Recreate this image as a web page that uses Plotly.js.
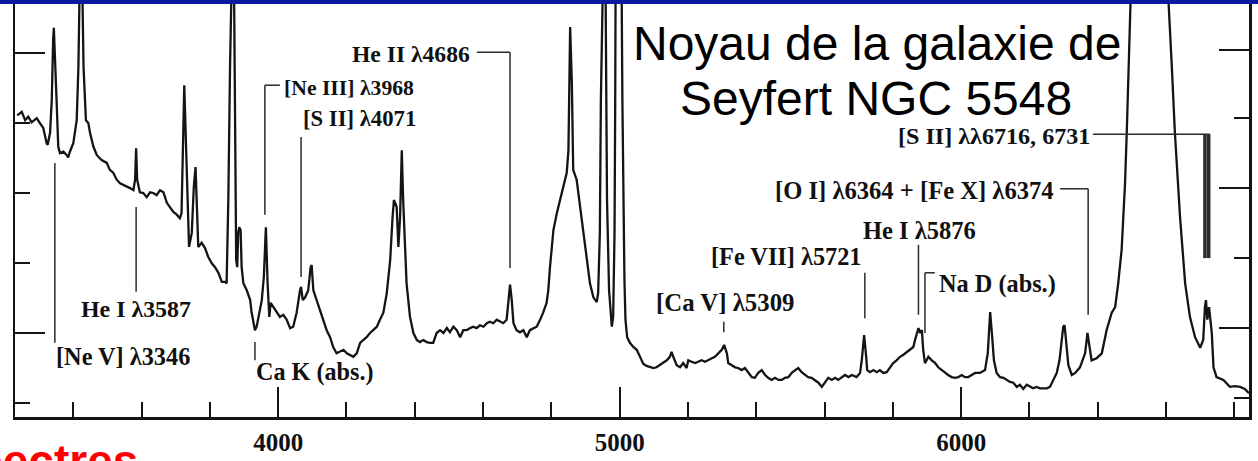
<!DOCTYPE html>
<html>
<head>
<meta charset="utf-8">
<script src="https://cdn.plot.ly/plotly-3.0.1.min.js"></script>
<style>
html,body{margin:0;padding:0;background:#fff;}
#chart{width:1258px;height:461px;}
</style>
</head>
<body>
<div id="chart"></div>
<script>
const wavelength = [
3236,3249,3259,3268,3278,3293,3302,3312,3322,3325,3332,3337,3341,3343,3351,3356,3361,3371,3381,3385,3390,3400,
3410,3415,3418,3423,3427,3430,3437,3444,3449,3459,3469,3483,3498,3507,3517,3527,3537,3551,3566,3576,3581,3584,3587,
3595,3605,3615,3625,3634,3644,3654,3664,3674,3683,3693,3703,3712,3717,3722,3725,3732,3739,3747,3753,3758,3763,3766,
3776,3786,3795,3805,3815,3825,3835,3844,3849,3854,3859,3862,3866,3871,3873,3875,3877,3880,3883,3886,3890,3893,3898,
3908,3918,3922,3927,3932,3937,3942,3952,3958,3964,3969,3974,3978,3986,3996,4005,4015,4025,4035,4044,4054,4059,4064,
4067,4072,4079,4088,4095,4098,4103,4113,4122,4132,4142,4152,4161,4171,4181,4191,4201,4210,4220,4230,4240,4249,4259,
4269,4279,4289,4298,4308,4318,4328,4335,4339,4347,4352,4357,4362,4366,4371,4376,4386,4396,4406,4415,4425,4435,4445,
4454,4464,4474,4484,4494,4503,4513,4523,4533,4542,4552,4562,4571,4581,4591,4601,4611,4620,4630,4640,4650,4659,4669,
4674,4679,4684,4689,4698,4708,4718,4728,4737,4747,4757,4767,4776,4786,4791,4796,4801,4806,4816,4825,4835,4845,4850,
4853,4855,4860,4864,4874,4884,4894,4903,4913,4923,4933,4937,4942,4945,4947,4953,4959,4961,4963,4969,4977,4981,4985,
4987,4988,4998,5006,5008,5011,5014,5017,5022,5030,5040,5050,5060,5069,5079,5089,5099,5108,5118,5128,5138,5147,5152,
5157,5167,5177,5186,5196,5201,5211,5221,5230,5240,5250,5260,5270,5279,5289,5299,5306,5314,5318,5328,5338,5347,5357,
5367,5377,5387,5396,5406,5416,5426,5435,5445,5455,5465,5475,5484,5494,5504,5514,5523,5533,5543,5552,5562,5572,5582,
5592,5601,5611,5621,5631,5640,5650,5660,5670,5680,5694,5704,5709,5714,5716,5721,5725,5733,5743,5753,5762,5772,5782,
5792,5801,5811,5821,5831,5841,5850,5860,5865,5870,5875,5880,5885,5889,5894,5899,5904,5914,5924,5933,5943,5953,5962,
5972,5982,5992,6002,6011,6021,6031,6041,6055,6070,6078,6082,6085,6090,6096,6104,6114,6124,6133,6143,6153,6163,6172,
6182,6192,6202,6211,6221,6231,6241,6251,6260,6270,6280,6288,6295,6299,6303,6309,6314,6324,6334,6348,6363,6370,6375,
6382,6397,6412,6426,6441,6451,6460,6470,6480,6485,6490,6496,6550,6607,6617,6626,6641,6656,6670,6685,6700,6709,6714,
6717,6721,6726,6734,6739,6748,6768,6787,6802,6817,6831,6843
];
// Relative flux (arbitrary units); values above the frame are the saturated line cores
const flux = [
5.11,5.16,5.04,5.09,5.01,5.07,5.00,4.93,4.71,4.69,4.86,5.33,6.19,6.36,5.33,4.66,4.57,4.59,4.54,4.51,4.59,4.71,
5.04,5.80,6.76,7.60,6.76,5.80,5.04,5.00,4.86,4.66,4.54,4.47,4.43,4.33,4.29,4.19,4.14,4.11,4.07,4.04,4.19,4.64,4.19,
4.01,4.00,3.94,4.01,4.00,3.97,4.04,4.01,3.86,3.80,3.73,3.69,3.64,3.71,4.86,5.54,4.37,3.23,3.43,4.09,4.37,3.80,3.23,
3.29,3.21,3.09,3.00,2.94,2.86,2.73,2.73,2.71,3.90,5.80,6.76,7.60,6.76,5.33,4.00,3.04,2.94,3.43,3.51,3.47,2.94,2.71,
2.61,2.47,2.30,2.19,2.04,2.09,2.23,2.47,2.80,3.51,2.71,2.23,2.43,2.37,2.29,2.23,2.26,2.19,2.07,2.09,2.29,2.47,2.61,
2.66,2.47,2.51,2.61,2.94,2.97,2.61,2.47,2.33,2.19,2.04,1.94,1.80,1.71,1.73,1.76,1.71,1.69,1.66,1.71,1.86,1.90,1.94,
2.00,2.04,2.09,2.19,2.29,2.57,3.04,3.66,3.90,3.80,3.23,3.66,4.61,3.90,3.19,2.71,2.23,2.00,1.90,1.87,1.90,1.87,1.86,
1.86,2.00,2.04,2.00,2.07,2.01,2.09,2.04,1.94,2.04,2.04,2.07,2.09,2.07,2.11,2.09,2.14,2.16,2.14,2.19,2.16,2.14,2.19,
2.47,2.69,2.47,2.14,2.04,2.01,2.04,1.94,2.04,2.07,2.09,2.19,2.29,2.43,2.61,2.94,3.19,3.47,3.71,3.90,4.09,4.29,4.61,
5.80,6.37,5.57,4.33,4.19,3.80,3.43,3.04,2.71,2.51,2.44,2.57,3.43,5.33,6.76,7.60,6.76,5.33,3.90,2.61,2.09,2.23,3.43,
5.33,6.76,7.60,6.76,5.33,3.90,2.76,2.19,1.94,1.86,1.80,1.76,1.66,1.56,1.53,1.51,1.50,1.51,1.54,1.57,1.61,1.66,1.73,
1.66,1.54,1.51,1.57,1.50,1.61,1.59,1.57,1.59,1.61,1.59,1.61,1.64,1.66,1.71,1.76,1.83,1.71,1.57,1.54,1.51,1.50,1.47,
1.50,1.43,1.37,1.36,1.43,1.47,1.40,1.36,1.33,1.36,1.33,1.33,1.36,1.37,1.43,1.47,1.50,1.44,1.40,1.37,1.36,1.33,1.29,
1.23,1.29,1.36,1.33,1.36,1.33,1.37,1.40,1.37,1.40,1.37,1.43,1.61,1.90,1.97,1.71,1.47,1.44,1.47,1.44,1.47,1.43,1.44,
1.51,1.57,1.61,1.66,1.69,1.73,1.76,1.80,1.90,2.00,2.07,2.00,2.04,1.76,1.57,1.61,1.66,1.61,1.57,1.51,1.47,1.43,1.40,
1.37,1.36,1.37,1.40,1.37,1.37,1.40,1.43,1.43,1.47,1.71,2.09,2.30,2.00,1.61,1.43,1.37,1.36,1.33,1.30,1.29,1.23,1.26,
1.20,1.26,1.23,1.21,1.23,1.21,1.21,1.21,1.23,1.33,1.43,1.61,1.90,2.09,2.11,1.83,1.54,1.40,1.43,1.51,1.71,2.00,1.83,
1.61,1.64,1.71,2.04,2.29,2.37,2.71,3.19,4.14,4.86,5.80,6.71,9.50,6.76,5.80,4.86,3.66,2.71,2.23,1.94,1.79,1.90,2.37,
2.47,2.19,2.37,2.00,1.51,1.37,1.33,1.23,1.24,1.23,1.20,1.14
];
const xTickValues = [4000, 5000, 6000];
const xTickLabels = ['4000', '5000', '6000'];
const xMinorTicks = [3400,3600,3800,4200,4400,4600,4800,5200,5400,5600,5800,6200,6400,6600,6800];
const lineNames = ['[Ne V] λ3346','He I λ3587','[Ne III] λ3968','[S II] λ4071','He II λ4686','Ca K (abs.)',
  '[Ca V] λ5309','[Fe VII] λ5721','He I λ5876','Na D (abs.)','[O I] λ6364 + [Fe X] λ6374','[S II] λλ6716, 6731'];
const titleLines = ['Noyau de la galaxie de', 'Seyfert NGC 5548'];
const slideTitle = 'Spectres';

const ink = '#141414';
// label placement: [x, y, xanchor, font size]
const labelPlace = [
  [3344, 1.67, 'left', 24.3], [3584, 2.34, 'center', 23.9], [4012, 5.50, 'left', 21.7], [4067, 5.07, 'left', 22.7],
  [4569, 5.99, 'right', 23.6], [3930, 1.44, 'left', 24.2], [5308, 2.44, 'center', 24.8], [5716, 3.10, 'right', 24.3],
  [5877, 3.47, 'center', 24.5], [5928, 2.70, 'left', 24.3], [6277, 4.04, 'right', 24.6], [6384, 4.81, 'right', 24.1]
];
const annotations = lineNames.map((t, i) => ({
  text: '<b>' + t + '</b>', x: labelPlace[i][0], y: labelPlace[i][1], xref: 'x', yref: 'y',
  xanchor: labelPlace[i][2], yanchor: 'middle', showarrow: false,
  font: {family: 'Liberation Serif, Times New Roman, serif', size: labelPlace[i][3], color: '#111'}
}));
annotations.push({text: titleLines[0], xref: 'paper', yref: 'paper', x: 0.6983, y: 0.8988,
  xanchor: 'center', yanchor: 'middle', showarrow: false,
  font: {family: 'Liberation Sans, Arial, sans-serif', size: 48, color: '#000'}});
annotations.push({text: titleLines[1], xref: 'paper', yref: 'paper', x: 0.6976, y: 0.7665,
  xanchor: 'center', yanchor: 'middle', showarrow: false,
  font: {family: 'Liberation Sans, Arial, sans-serif', size: 48, color: '#000'}});
annotations.push({text: '<b>' + slideTitle + '</b>', xref: 'paper', yref: 'paper', x: 0.1013, y: -0.106,
  xanchor: 'right', yanchor: 'middle', showarrow: false,
  font: {family: 'Liberation Sans, Arial, sans-serif', size: 46, color: '#ff0000'}});

// marker segments [x0, y0, x1, y1, width]
const seg = [
  [3346, 1.86, 3346, 4.43, 1.5], [3584, 2.59, 3584, 3.80, 1.5],
  [4005, 5.54, 3961, 5.54, 1.5], [3961, 5.54, 3961, 3.69, 1.5],
  [4067, 2.80, 4067, 4.80, 1.5],
  [4582, 6.01, 4679, 6.01, 1.5], [4679, 6.01, 4679, 2.93, 1.5],
  [3932, 1.61, 3932, 1.87, 1.5], [5305, 2.01, 5305, 2.16, 1.5],
  [5718, 2.21, 5718, 2.86, 1.5], [5875, 2.26, 5875, 3.26, 1.5],
  [5923, 2.86, 5894, 2.86, 1.5], [5894, 2.86, 5894, 2.00, 1.5],
  [6290, 4.06, 6372, 4.06, 1.5], [6372, 4.06, 6372, 2.26, 1.5],
  [6386, 4.84, 6728, 4.84, 1.5], [6714, 4.84, 6714, 3.07, 3.5], [6725, 4.84, 6725, 3.07, 3.5]
];
const shapes = seg.map(s => ({type: 'line', xref: 'x', yref: 'y', x0: s[0], y0: s[1], x1: s[2], y1: s[3],
  line: {color: '#2a2a2a', width: s[4]}}));
shapes.push({type: 'rect', xref: 'paper', yref: 'paper', x0: -0.02, x1: 1.02, y0: 0.9952, y1: 1.01,
  fillcolor: '#0a1aa0', line: {width: 0}, layer: 'above'});

const yr = [0.8, 6.7286];
const traces = [
  {x: wavelength, y: flux, mode: 'lines', line: {color: ink, width: 2.3}, hoverinfo: 'skip'},
  {x: [], y: [], yaxis: 'y2', mode: 'lines', showlegend: false}
];
const layout = {
  width: 1258, height: 461,
  margin: {l: 15, r: 9, t: 2, b: 44},
  paper_bgcolor: '#fff', plot_bgcolor: '#fff', showlegend: false,
  xaxis: {range: [3229.3, 6843], showgrid: false, zeroline: false, showline: true, linecolor: ink, linewidth: 2.5,
    ticks: 'inside', ticklen: 30, tickwidth: 2, tickcolor: ink, tickmode: 'array', tickvals: xTickValues,
    ticktext: xTickLabels.map(t => '<b>' + t + '</b>'), ticklabelstandoff: 1,
    tickfont: {family: 'Liberation Serif, Times New Roman, serif', size: 25, color: '#111'},
    minor: {tickmode: 'array', tickvals: xMinorTicks, ticks: 'inside', ticklen: 15, tickwidth: 2, tickcolor: ink, showgrid: false}},
  yaxis: {range: yr, showgrid: false, zeroline: false, showline: true, linecolor: ink, linewidth: 2.5,
    ticks: 'inside', ticklen: 30, tickwidth: 2, tickcolor: ink, tickmode: 'array', tickvals: [2, 6], showticklabels: false,
    minor: {tickmode: 'array', tickvals: [1, 3, 4, 5], ticks: 'inside', ticklen: 15, tickwidth: 2, tickcolor: ink, showgrid: false}},
  yaxis2: {range: yr, overlaying: 'y', side: 'right', showgrid: false, zeroline: false, showline: true, linecolor: ink, linewidth: 2.5,
    ticks: 'inside', ticklen: 30, tickwidth: 2, tickcolor: ink, tickmode: 'array', tickvals: [2.07, 4.07, 6.04], showticklabels: false,
    minor: {tickmode: 'array', tickvals: [1.07, 3.07, 5.07], ticks: 'inside', ticklen: 15, tickwidth: 2, tickcolor: ink, showgrid: false}},
  annotations: annotations,
  shapes: shapes
};
Plotly.newPlot('chart', traces, layout, {staticPlot: true, displayModeBar: false});
</script>
</body>
</html>
